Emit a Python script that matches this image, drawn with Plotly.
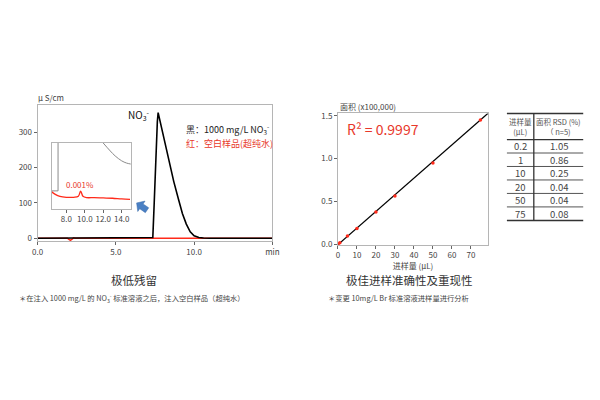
import numpy as np
import plotly.graph_objects as go

# ---------------- data ----------------
# Left: chromatogram (time in min, conductivity in uS/cm)
black_t = [0, 7.30, 7.36, 7.45, 7.55, 7.65, 7.70, 7.80, 7.95, 8.20, 8.45, 8.70, 9.00, 9.25, 9.50, 9.75, 10.0, 10.3, 10.6, 11.0, 15.0]
black_v = [0, 0, 2, 100, 230, 330, 355, 335, 300, 250, 200, 160, 110, 70, 40, 18, 7, 2, 0.5, 0, 0]
red_t = [0, 1.9, 2.0, 2.1, 2.2, 2.3, 2.4, 7.4, 8.0, 9.0, 10.0, 10.3, 15]
red_v = [0, 0, -3, -6, -3, 1, 0, 0, 1.5, 1.5, 1.0, 0, 0]

# Inset (zoomed view, relative scale 0-100)
inset_red_t = [6.41, 6.8, 7.3, 8.0, 8.8, 9.3, 9.55, 9.8, 10.2, 11.0, 12.0, 13.0, 14.0, 14.9]
inset_red_v = [25.7, 22, 19, 17.5, 17.5, 19, 26.7, 19, 17, 17, 16.5, 16, 15, 14.4]
inset_grey1_t = [6.41, 7.1, 7.1]
inset_grey1_v = [27.2, 27.2, 100]
inset_grey2_t = [11.98, 12.76, 13.29, 13.99, 14.52, 14.98]
inset_grey2_v = [100, 87.7, 80.2, 72.8, 69.4, 67.9]

# Right: calibration (injection volume uL, area x100,000)
inj_vol = [0.2, 1, 5, 10, 20, 30, 50, 75]
area = [0.004, 0.02, 0.097, 0.187, 0.377, 0.565, 0.95, 1.45]
fit_x = [0, 79]
fit_y = [-0.002, 1.528]

# Table
tbl_vol = ["0.2", "1", "10", "20", "50", "75"]
tbl_rsd = ["1.05", "0.86", "0.25", "0.04", "0.04", "0.08"]

# ---------------- helpers ----------------
W, H = 600, 400
def PX(x): return x / W
def PY(y): return 1 - y / H

FONT = "Noto Sans CJK SC"
RED = "#e8382b"
TXT = "#444444"
FRAME = "#b5b5b5"

fig = go.Figure()

fig.add_trace(go.Scatter(x=red_t, y=red_v, mode="lines", line=dict(color="#ff2a1a", width=1.5),
                         xaxis="x", yaxis="y", hoverinfo="skip"))
fig.add_trace(go.Scatter(x=black_t, y=black_v, mode="lines", line=dict(color="#000000", width=1.6),
                         xaxis="x", yaxis="y", hoverinfo="skip"))

fig.add_trace(go.Scatter(x=inset_grey1_t, y=inset_grey1_v, mode="lines", line=dict(color="#8a8a8a", width=1),
                         xaxis="x3", yaxis="y3", hoverinfo="skip"))
fig.add_trace(go.Scatter(x=inset_grey2_t, y=inset_grey2_v, mode="lines", line=dict(color="#8a8a8a", width=1, shape="spline"),
                         xaxis="x3", yaxis="y3", hoverinfo="skip"))
fig.add_trace(go.Scatter(x=inset_red_t, y=inset_red_v, mode="lines", line=dict(color="#ff2a1a", width=1.3, shape="spline"),
                         xaxis="x3", yaxis="y3", hoverinfo="skip"))

fig.add_trace(go.Scatter(x=fit_x, y=fit_y, mode="lines", line=dict(color="#000000", width=1.3),
                         xaxis="x2", yaxis="y2", hoverinfo="skip"))
fig.add_trace(go.Scatter(x=inj_vol, y=area, mode="markers", marker=dict(color="#ff2a1a", size=3.5),
                         xaxis="x2", yaxis="y2", hoverinfo="skip"))

axis_common = dict(showgrid=False, zeroline=False, showline=True, mirror=True, linecolor=FRAME, linewidth=1,
                   ticks="outside", ticklen=3, tickcolor="#666", tickfont=dict(size=8, color=TXT, family=FONT))

layout = dict(
    width=W, height=H, autosize=False,
    margin=dict(l=0, r=0, t=0, b=0),
    paper_bgcolor="white", plot_bgcolor="white",
    showlegend=False,
    font=dict(family=FONT, color=TXT),
    xaxis=dict(domain=[PX(32.3), PX(272.3)], range=[0, 15], tickvals=[0, 5, 10, 15],
               ticktext=["0.0", "5.0", "10.0", "min"], anchor="y", **axis_common),
    yaxis=dict(domain=[PY(242), PY(103)], range=[-8.3, 376.7], tickvals=[0, 100, 200, 300], anchor="x", **axis_common),
    xaxis2=dict(domain=[PX(339.3), PX(492.7)], range=[0, 79], tickvals=[0, 10, 20, 30, 40, 50, 60, 70], anchor="y2",
                title=dict(text="进样量 (μL)", font=dict(size=8, color=TXT), standoff=2), **axis_common),
    yaxis2=dict(domain=[PY(245.7), PY(111.7)], range=[-0.004, 1.526], tickvals=[0, 0.5, 1.0, 1.5],
                ticktext=["0.0", "0.5", "1.0", "1.5"], anchor="x2", **axis_common),
    xaxis3=dict(domain=[PX(46.7), PX(127.7)], range=[6.41, 15], tickvals=[8, 10, 12, 14],
                ticktext=["8.0", "10.0", "12.0", "14.0"], anchor="y3", **axis_common),
    yaxis3=dict(domain=[PY(209), PY(141.7)], range=[0, 100], anchor="x3", showticklabels=False,
                **{k: v for k, v in axis_common.items() if k not in ("ticks",)}, ticks=""),
)
fig.update_layout(**layout)

ann = []
def A(text, x, y, size, color=TXT, xanchor="center", yanchor="middle"):
    ann.append(dict(text=text, x=PX(x), y=PY(y), xref="paper", yref="paper", showarrow=False,
                    xanchor=xanchor, yanchor=yanchor, font=dict(size=size, color=color, family=FONT)))

A("μ S/cm", 31, 95, 8, xanchor="left")
A("NO<sub>3</sub><sup>-</sup>", 149, 113, 10, color="#111", xanchor="right")
A("黑：1000 mg/L NO<sub>3</sub><sup>-</sup>", 182, 128.5, 9, color="#222", xanchor="left")
A("红：空白样品(超纯水)", 182, 142.5, 9, color=RED, xanchor="left")
A("0.001%", 76, 184, 8, color=RED)
A("面积 (x100,000)", 339, 105, 8, xanchor="left")
A("R² = 0.9997", 347, 127.5, 14, color=RED, xanchor="left")
A("极低残留", 131, 282, 11.5, color="#333")
A("极佳进样准确性及重现性", 412, 282, 11.5, color="#333")
A("＊在注入 1000 mg/L 的 NO<sub>3</sub><sup>-</sup> 标准溶液之后，注入空白样品（超纯水）", 11, 300, 7.3, xanchor="left")
A("＊变更 10mg/L Br 标准溶液进样量进行分析", 327, 300, 7.3, xanchor="left")

# Table
tx0, tx1, tdiv = 512, 590, 539.5
ttop, thead = 111.7, 138.3
row_h = 13.75
A("进样量<br>(μL)", (tx0 + tdiv) / 2, (ttop + thead) / 2, 7.5, color="#555")
A("面积 RSD (%)<br>（ n=5)", (tdiv + tx1) / 2, (ttop + thead) / 2, 7.5, color="#555")
for i, (v, r) in enumerate(zip(tbl_vol, tbl_rsd)):
    yc = thead + row_h * (i + 0.5)
    A(v, (tx0 + tdiv) / 2, yc, 9.5, color="#444")
    A(r, (tdiv + tx1) / 2 + 1, yc, 9.5, color="#444")

shapes = []
def L(x0, y0, x1, y1, w=1, c="#444"):
    shapes.append(dict(type="line", xref="paper", yref="paper", x0=PX(x0), y0=PY(y0), x1=PX(x1), y1=PY(y1),
                       line=dict(color=c, width=w)))
L(tx0, ttop, tx1, ttop, 1.5, "#333")
L(tx0, thead, tx1, thead, 1.3, "#333")
nrows = len(tbl_vol)
for i in range(1, nrows):
    L(tx0, thead + row_h * i, tx1, thead + row_h * i, 1, "#555")
tbot = thead + row_h * nrows
L(tx0, tbot, tx1, tbot, 1.5, "#333")
L(tdiv, ttop, tdiv, tbot, 1.3, "#333")

# Blue block arrow pointing up-left toward the inset
local = np.array([[0, 0], [6, -6.5], [6, -3], [13, -3], [13, 3], [6, 3], [6, 6.5]], dtype=float)
ang = np.deg2rad(35)
rot = np.array([[np.cos(ang), -np.sin(ang)], [np.sin(ang), np.cos(ang)]])
pts = local @ rot.T + np.array([133.5, 203.0])
path = "M " + " L ".join(f"{PX(px):.5f},{PY(py):.5f}" for px, py in pts) + " Z"
shapes.append(dict(type="path", xref="paper", yref="paper", path=path,
                   fillcolor="#4a80c4", line=dict(color="#3a6aa8", width=0.5)))

fig.update_layout(annotations=ann, shapes=shapes)
fig.write_html("out.html")
